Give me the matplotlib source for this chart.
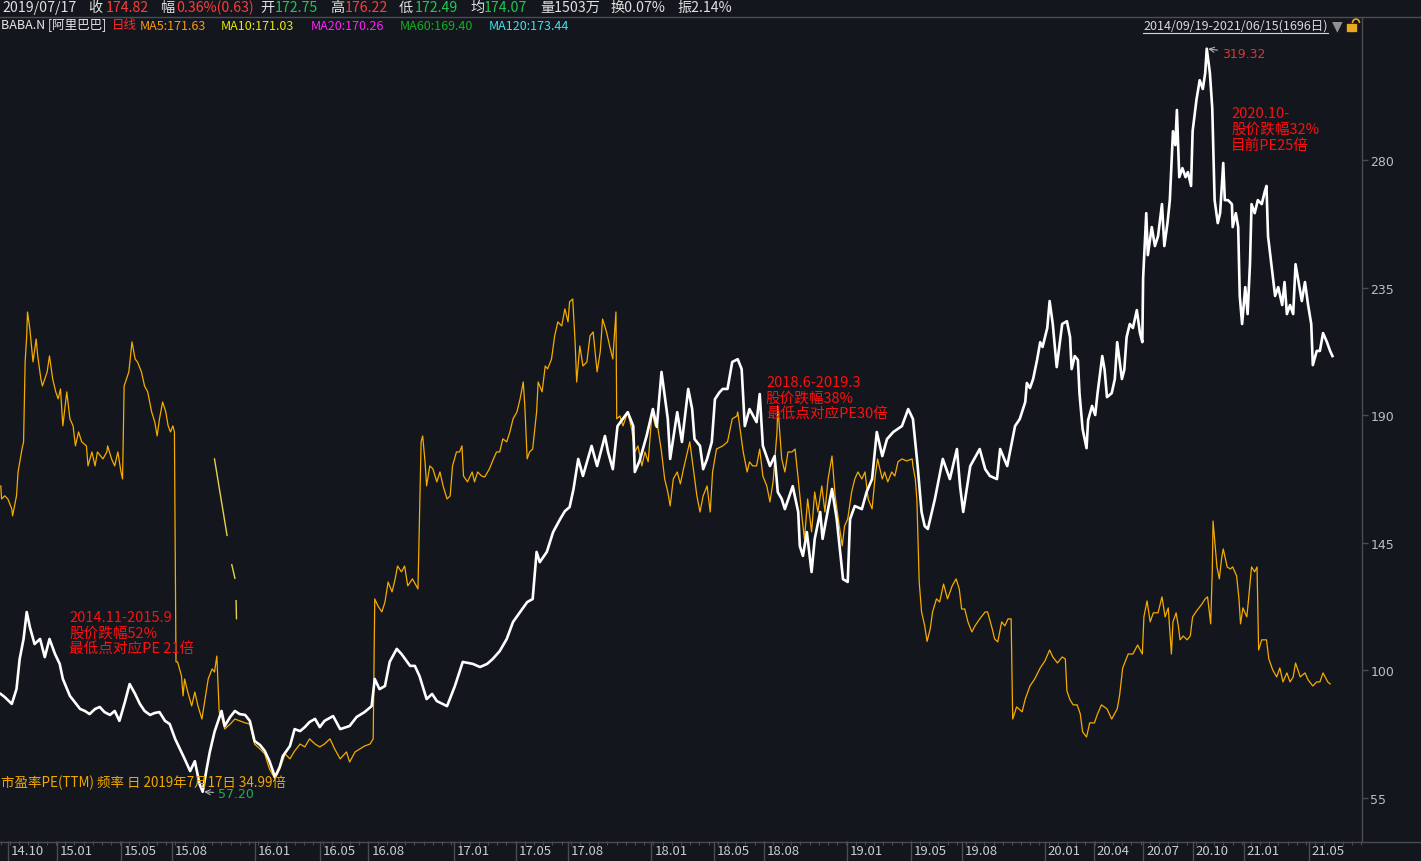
import matplotlib
matplotlib.use('Agg')
import numpy as np
import matplotlib.pyplot as plt
from matplotlib.lines import Line2D
from matplotlib.patches import Rectangle, Arc
from matplotlib.ticker import FixedLocator, MultipleLocator, NullFormatter

plt.rcParams['font.family'] = ['Noto Sans CJK SC', 'DejaVu Sans']

# ---- data: trading-day index since 2014/09/19 ----
price_day = [0, 5, 14, 20, 24, 29, 33, 37, 43, 50,
             56, 62, 69, 75, 79, 88, 94, 101, 107, 113,
             120, 126, 132, 139, 145, 151, 158, 164, 171, 177,
             183, 190, 196, 202, 209, 215, 222, 228, 234, 241,
             247, 253, 257, 262, 266, 272, 281, 285, 292, 298,
             304, 311, 317, 323, 330, 336, 342, 349, 355, 359,
             368, 374, 381, 387, 393, 400, 406, 412, 423, 432,
             444, 453, 463, 472, 476, 482, 489, 495, 504, 510,
             521, 527, 533, 542, 549, 555, 568, 578, 588, 601,
             610, 619, 626, 635, 644, 652, 661, 670, 677, 682,
             686, 695, 703, 712, 718, 724, 729, 735, 741, 752,
             759, 769, 773, 779, 785, 798, 805, 807, 813, 822,
             830, 835, 841, 849, 852, 861, 867, 875, 880, 883,
             890, 894, 899, 905, 909, 915, 919, 925, 931, 938,
             943, 947, 953, 962, 966, 970, 979, 985, 989, 994,
             998, 1008, 1015, 1017, 1021, 1026, 1032, 1036, 1043, 1046,
             1053, 1058, 1064, 1072, 1078, 1081, 1087, 1096, 1102, 1109,
             1115, 1122, 1128, 1136, 1147, 1155, 1161, 1167, 1172, 1176,
             1180, 1189, 1199, 1208, 1217, 1221, 1225, 1234, 1246, 1253,
             1259, 1268, 1272, 1281, 1291, 1297, 1304, 1306, 1310, 1314,
             1319, 1323, 1326, 1332, 1335, 1339, 1344, 1351, 1357, 1361,
             1363, 1367, 1371, 1373, 1377, 1382, 1384, 1389, 1393, 1396,
             1402, 1405, 1408, 1414, 1418, 1421, 1427, 1430, 1433, 1437,
             1441, 1446, 1450, 1453, 1454, 1458, 1460, 1465, 1469, 1473,
             1478, 1481, 1485, 1488, 1492, 1495, 1497, 1500, 1504, 1508,
             1511, 1515, 1517, 1522, 1526, 1530, 1533, 1535, 1539, 1542,
             1543, 1545, 1549, 1552, 1556, 1558, 1562, 1567, 1568, 1572,
             1575, 1577, 1580, 1584, 1587, 1590, 1592, 1596, 1600, 1605,
             1609, 1611, 1613, 1618, 1622, 1626, 1631, 1634, 1637, 1641,
             1645, 1648, 1651, 1656, 1660, 1664, 1668, 1670, 1675, 1679,
             1683, 1688, 1692, 1695]
price = [91.7, 90.6, 88.2, 93.4, 104.0, 111.1, 120.6, 115.3, 109.3, 111.1,
         104.7, 111.1, 105.8, 102.3, 97.0, 91.0, 88.9, 86.4, 85.7, 84.6,
         86.4, 87.1, 85.3, 84.3, 85.7, 82.2, 88.9, 95.2, 91.7, 88.2,
         85.7, 84.3, 85.0, 85.3, 82.2, 81.1, 75.8, 72.3, 68.8, 64.5,
         68.0, 59.9, 57.2, 65.2, 71.2, 78.3, 85.7, 80.4, 83.6, 85.7,
         84.6, 84.3, 82.2, 75.1, 73.7, 71.6, 68.0, 62.4, 65.9, 69.8,
         73.3, 79.3, 78.6, 80.0, 81.8, 82.9, 80.0, 82.2, 83.9, 79.3,
         80.4, 83.6, 85.3, 87.4, 97.0, 93.4, 94.5, 103.0, 107.6, 105.8,
         101.6, 101.6, 98.0, 89.9, 91.7, 89.2, 87.4, 94.5, 103.0, 102.3,
         101.2, 102.3, 104.0, 106.8, 111.1, 117.1, 120.6, 124.1, 125.2, 141.8,
         138.2, 141.8, 148.8, 153.4, 156.2, 157.6, 164.0, 174.6, 168.6, 179.2,
         172.1, 182.7, 177.0, 171.0, 186.2, 191.1, 186.2, 170.0, 173.9, 182.7,
         192.2, 185.9, 205.3, 188.7, 174.6, 191.1, 180.6, 199.3, 192.2, 181.6,
         179.2, 171.0, 174.6, 180.6, 195.7, 198.2, 199.3, 199.3, 208.8, 209.8,
         206.3, 186.2, 192.2, 187.6, 197.5, 179.2, 172.1, 175.6, 162.9, 160.5,
         156.9, 165.0, 155.9, 143.9, 140.4, 148.8, 134.7, 146.4, 155.9, 146.4,
         156.9, 164.0, 153.4, 132.2, 131.2, 153.4, 158.0, 156.9, 162.9, 167.5,
         184.1, 175.6, 181.6, 184.1, 186.2, 192.2, 188.7, 172.1, 155.9, 150.9,
         149.9, 160.5, 174.6, 167.5, 178.1, 165.0, 155.9, 172.1, 178.1, 171.0,
         168.6, 167.5, 178.1, 172.1, 186.2, 188.7, 194.7, 201.4, 199.6, 202.8,
         209.5, 215.8, 214.1, 220.8, 230.3, 222.2, 207.0, 222.2, 223.2, 217.6,
         206.3, 210.9, 209.5, 197.8, 185.1, 178.4, 188.3, 193.3, 190.1, 197.8,
         210.9, 206.0, 196.4, 197.8, 202.8, 215.8, 202.8, 206.0, 217.6, 222.2,
         220.8, 227.1, 219.0, 215.8, 238.4, 261.3, 246.5, 256.4, 249.7, 253.2,
         264.5, 249.7, 257.8, 265.9, 290.2, 285.3, 297.7, 274.0, 277.2, 274.0,
         275.8, 270.9, 290.2, 301.5, 308.2, 305.1, 310.7, 319.32, 310.7, 298.4,
         287.1, 265.9, 257.8, 261.3, 279.0, 265.9, 265.9, 264.5, 256.4, 261.3,
         256.4, 232.1, 222.2, 235.2, 225.7, 243.3, 264.5, 261.3, 265.9, 264.5,
         269.1, 270.9, 253.2, 241.6, 232.1, 235.2, 228.9, 237.0, 225.7, 228.9,
         225.7, 243.3, 238.4, 230.3, 237.0, 228.9, 222.2, 207.7, 212.7, 212.7,
         219.0, 215.8, 212.7, 210.9]

pe_day = [0, 1, 5, 9, 14, 15, 20, 22, 27, 29,
          31, 33, 34, 37, 39, 41, 45, 47, 51, 53,
          59, 62, 66, 70, 73, 76, 79, 84, 88, 92,
          95, 99, 103, 109, 111, 116, 120, 123, 130, 135,
          136, 141, 145, 149, 153, 155, 157, 160, 163, 167,
          171, 174, 179, 183, 187, 192, 196, 199, 202, 206,
          210, 213, 216, 219, 221, 223, 225, 230, 232, 234,
          238, 243, 247, 251, 256, 260, 264, 269, 272, 275,
          278, 281, 285, 292, 298, 304, 311, 317, 323, 330,
          336, 342, 349, 355, 362, 368, 374, 381, 387, 393,
          400, 406, 412, 419, 425, 432, 440, 444, 451, 457,
          463, 470, 474, 476, 480, 485, 489, 493, 498, 502,
          505, 510, 514, 518, 524, 531, 535, 537, 540, 542,
          546, 550, 555, 559, 563, 568, 572, 575, 580, 584,
          587, 589, 594, 600, 603, 607, 612, 616, 622, 626,
          631, 635, 639, 644, 648, 652, 657, 661, 665, 667,
          670, 673, 677, 682, 684, 689, 693, 696, 701, 705,
          709, 714, 718, 722, 724, 728, 731, 733, 737, 741,
          746, 750, 754, 759, 763, 766, 771, 775, 779, 783,
          784, 788, 792, 798, 803, 807, 811, 816, 820, 824,
          829, 833, 836, 841, 845, 849, 852, 856, 861, 865,
          869, 874, 877, 881, 886, 890, 894, 899, 903, 906,
          911, 919, 925, 931, 937, 938, 941, 945, 950, 953,
          957, 962, 966, 970, 975, 979, 983, 988, 989, 994,
          998, 1002, 1007, 1011, 1015, 1020, 1023, 1027, 1032, 1036,
          1040, 1045, 1049, 1053, 1058, 1062, 1066, 1071, 1074, 1078,
          1083, 1087, 1091, 1096, 1100, 1104, 1109, 1113, 1116, 1122,
          1125, 1129, 1134, 1138, 1142, 1147, 1153, 1160, 1161, 1164,
          1166, 1169, 1172, 1176, 1179, 1183, 1186, 1191, 1195, 1200,
          1205, 1211, 1216, 1220, 1223, 1227, 1231, 1236, 1240, 1246,
          1253, 1256, 1262, 1265, 1269, 1274, 1278, 1282, 1286, 1288,
          1293, 1300, 1304, 1310, 1316, 1323, 1329, 1335, 1339, 1345,
          1351, 1355, 1357, 1361, 1365, 1370, 1374, 1377, 1382, 1386,
          1392, 1396, 1401, 1408, 1414, 1421, 1424, 1428, 1435, 1441,
          1447, 1453, 1455, 1459, 1463, 1467, 1473, 1478, 1482, 1486,
          1490, 1492, 1496, 1499, 1501, 1505, 1510, 1514, 1517, 1522,
          1529, 1533, 1536, 1540, 1542, 1543, 1548, 1551, 1554, 1556,
          1561, 1565, 1568, 1573, 1576, 1578, 1581, 1586, 1588, 1592,
          1596, 1599, 1601, 1605, 1611, 1614, 1619, 1624, 1628, 1632,
          1637, 1641, 1645, 1648, 1654, 1660, 1664, 1670, 1675, 1679,
          1683, 1689, 1692]
pe = [33.80, 33.22, 33.36, 33.22, 32.78, 32.47, 33.36, 34.42, 35.44, 35.76,
      39.31, 40.47, 41.53, 40.78, 40.02, 39.31, 40.33, 39.58, 38.56, 38.24,
      38.87, 39.58, 38.56, 37.98, 37.67, 38.11, 36.47, 37.98, 36.78, 36.47,
      35.58, 36.20, 35.76, 35.58, 34.69, 35.31, 34.69, 35.31, 35.00, 35.31,
      35.58, 35.00, 34.69, 35.31, 34.42, 34.11, 38.24, 38.56, 38.87, 40.20,
      39.44, 39.31, 38.87, 38.24, 37.98, 37.09, 36.64, 36.02, 36.78, 37.53,
      37.09, 36.47, 36.20, 36.47, 36.20, 25.98, 25.98, 25.36, 24.47, 25.22,
      24.64, 24.02, 24.64, 24.02, 23.44, 24.33, 25.22, 25.67, 25.53, 26.24,
      23.76, 23.53, 23.00, 23.22, 23.44, 23.36, 23.27, 23.22, 22.33, 22.11,
      21.89, 21.22, 20.78, 21.22, 21.89, 21.67, 22.02, 22.33, 22.20, 22.56,
      22.33, 22.20, 22.33, 22.56, 22.11, 21.67, 21.98, 21.53, 21.98, 22.11,
      22.24, 22.33, 22.56, 28.78, 28.47, 28.20, 28.64, 29.53, 29.09, 29.67,
      30.24, 29.98, 30.24, 29.36, 29.67, 29.22, 35.76, 36.02, 34.87, 33.80,
      34.69, 34.56, 33.98, 34.42, 33.80, 33.22, 33.36, 34.69, 35.31, 35.31,
      35.58, 34.24, 33.98, 34.42, 33.98, 34.42, 34.24, 34.20, 34.56, 34.91,
      35.31, 35.31, 35.89, 35.76, 36.20, 36.78, 37.09, 37.67, 38.42, 37.36,
      35.00, 35.31, 35.44, 37.09, 38.42, 37.98, 39.13, 39.00, 39.44, 40.47,
      41.09, 40.91, 41.67, 41.09, 41.98, 42.11, 40.20, 38.42, 40.02, 39.13,
      39.31, 40.47, 40.64, 38.87, 39.76, 41.22, 40.64, 40.02, 39.44, 41.53,
      36.78, 36.91, 36.47, 37.09, 36.33, 35.31, 35.58, 34.69, 35.31, 34.87,
      37.09, 36.47, 36.47, 35.31, 34.11, 33.53, 32.91, 34.11, 34.42, 33.89,
      34.56, 35.31, 35.76, 34.69, 33.36, 32.64, 33.36, 33.80, 32.64, 34.42,
      35.44, 35.58, 35.76, 36.78, 36.91, 37.09, 36.33, 35.31, 34.42, 34.87,
      34.69, 34.69, 35.44, 34.24, 33.80, 33.09, 33.98, 36.20, 37.36, 35.00,
      34.42, 35.31, 35.31, 35.44, 34.11, 32.33, 31.44, 33.22, 31.76, 33.53,
      32.64, 33.80, 32.64, 34.11, 35.13, 33.36, 32.33, 31.13, 32.02, 32.33,
      33.53, 34.11, 34.42, 34.11, 34.42, 33.22, 32.78, 34.24, 35.00, 34.11,
      34.42, 33.98, 34.42, 34.24, 34.87, 35.00, 34.91, 35.00, 34.69, 34.11,
      33.22, 29.53, 28.20, 27.58, 26.89, 27.44, 28.20, 28.78, 28.64, 29.44,
      28.78, 29.36, 29.67, 29.22, 28.33, 28.33, 27.76, 27.31, 27.58, 27.89,
      28.20, 28.20, 27.44, 27.00, 26.87, 27.76, 27.58, 27.89, 27.89, 23.44,
      23.98, 23.76, 24.33, 24.91, 25.22, 25.71, 26.02, 26.51, 26.20, 25.93,
      26.20, 26.11, 24.69, 24.29, 24.07, 24.07, 23.67, 22.87, 22.64, 23.27,
      23.27, 23.67, 24.07, 23.89, 23.44, 23.89, 24.47, 25.71, 26.33, 26.33,
      26.73, 26.33, 27.98, 28.69, 27.76, 28.16, 28.16, 28.87, 27.98, 28.38,
      26.33, 27.76, 28.16, 27.53, 26.96, 27.13, 26.96, 27.13, 27.98, 28.24,
      28.56, 28.78, 28.87, 27.67, 29.98, 32.24, 30.20, 29.67, 30.60, 31.00,
      30.20, 30.11, 30.20, 29.80, 28.78, 27.67, 28.38, 27.98, 28.69, 30.20,
      29.98, 30.20, 26.51, 26.96, 26.96, 26.11, 25.62, 25.31, 25.71, 25.09,
      25.49, 25.09, 25.31, 25.93, 25.31, 25.49, 25.18, 24.91, 25.09, 25.09,
      25.49, 25.09, 25.00]

# broken PE stretch in late 2015
gap_day = [272, 288, 289, 294, 298, 299, 299.5, 300]
gap_pe = [35.0, 31.6, np.nan, 30.3, 29.7, np.nan, 28.7, 27.9]

tick_day = [9, 71, 153, 218, 323, 406, 468, 577, 656, 722, 828,
            908, 971, 1077, 1158, 1223, 1329, 1391, 1454, 1517, 1582, 1665]
tick_lab = ['14.10', '15.01', '15.05', '15.08', '16.01', '16.05', '16.08',
            '17.01', '17.05', '17.08', '18.01', '18.05', '18.08', '19.01',
            '19.05', '19.08', '20.01', '20.04', '20.07', '20.10', '21.01', '21.05']
price_ticks = [55, 100, 145, 190, 235, 280]

# ---- figure ----
W, H = 1421, 862
BG = '#13161c'
GRID = '#4a4c52'
fig = plt.figure(figsize=(W / 100, H / 100), dpi=100, facecolor=BG)

def fx(x): return x / W
def fy(y): return 1 - y / H

ax = fig.add_axes([0, fy(842), fx(1362), (842 - 18) / H])
ax.set_facecolor(BG)
axp = ax.twinx()

# PE line underneath the price line
ax.plot(pe_day, pe, color='#f5ab00', lw=0.9)
ax.plot(gap_day, gap_pe, color='#e6d24a', lw=1.0)
ax.set_ylim(18.02, 54.64)
ax.set_yticks([])

axp.plot(price_day, price, color='white', lw=1.9)
axp.set_ylim(39.83, 330.5)
ax.set_xlim(-1, 1732.6)

for s in ['left', 'top', 'right', 'bottom']:
    ax.spines[s].set_visible(False)
    axp.spines[s].set_visible(False)

axp.yaxis.set_major_locator(FixedLocator(price_ticks))
axp.tick_params(axis='y', colors=GRID, length=4, width=1, pad=2,
                labelcolor='#b8c0c8', labelsize=9)
for lab in axp.get_yticklabels():
    lab.set_family('DejaVu Sans')

ax.xaxis.set_major_locator(FixedLocator(tick_day))
ax.xaxis.set_major_formatter(NullFormatter())
ax.xaxis.set_minor_locator(MultipleLocator(11.7))
ax.tick_params(axis='x', which='major', length=14.4, width=1, color=GRID, direction='out')
ax.tick_params(axis='x', which='minor', length=3, width=0.8, color=GRID, direction='out')
for d, lab in zip(tick_day, tick_lab):
    ax.annotate(lab, xy=(d, 0), xycoords=('data', 'axes fraction'),
                xytext=(3, -10), textcoords='offset pixels',
                ha='left', va='center', color='#c8ccd4', fontsize=9.5,
                annotation_clip=False)

# frame lines
for coords in [([0, 1], [fy(18), fy(18)]), ([0, 1], [fy(842.5), fy(842.5)]),
               ([fx(1362), fx(1362)], [fy(18), fy(842.5)])]:
    fig.add_artist(Line2D(coords[0], coords[1], color=GRID, lw=1))

# header row 1
row1 = [(2, '2019/07/17', '#e0e0e0'), (88, '收', '#e0e0e0'), (106, '174.82', '#ff3b3b'),
        (160, '幅', '#e0e0e0'), (176, '0.36%(0.63)', '#ff3b3b'),
        (260, '开', '#e0e0e0'), (275, '172.75', '#1fc94f'),
        (330, '高', '#e0e0e0'), (345, '176.22', '#ff3b3b'),
        (399, '低', '#e0e0e0'), (415, '172.49', '#1fc94f'),
        (470, '均', '#e0e0e0'), (484, '174.07', '#1fc94f'),
        (540, '量1503万', '#e0e0e0'), (611, '换0.07%', '#e0e0e0'), (677, '振2.14%', '#e0e0e0')]
for x, t, c in row1:
    fig.text(fx(x), fy(8), t, color=c, fontsize=10.2, ha='left', va='center')

row2 = [(1, 'BABA.N [阿里巴巴]', '#e8e8e8'), (112, '日线', '#ff2a2a'),
        (140, 'MA5:171.63', '#ff9a00'), (221, 'MA10:171.03', '#e8e800'),
        (311, 'MA20:170.26', '#ff20ff'), (400, 'MA60:169.40', '#10b020'),
        (489, 'MA120:173.44', '#40e0f0')]
for x, t, c in row2:
    fig.text(fx(x), fy(26), t, color=c, fontsize=9, ha='left', va='center')

fig.text(fx(1328), fy(26), '2014/09/19-2021/06/15(1696日)', color='#d8d8d8',
         fontsize=9, ha='right', va='center')
fig.add_artist(Line2D([fx(1143), fx(1328)], [fy(34), fy(34)], color='#d8d8d8', lw=0.8))
fig.text(fx(1337), fy(26), '▼', color='#909090', fontsize=10, ha='center', va='center',
         family='DejaVu Sans')
fig.add_artist(Rectangle((fx(1347), fy(32)), fx(9), 7 / H, color='#e8a820'))
fig.add_artist(Arc((fx(1356), fy(24)), fx(7), 8 / H, theta1=0, theta2=180,
                   color='#e8a820', lw=1.2))

# price extremes
axp.annotate('319.32', xy=(1535, 319.32), xytext=(15, -5), textcoords='offset pixels',
             color='#d83838', fontsize=9, ha='left', va='center', family='DejaVu Sans',
             arrowprops=dict(arrowstyle='->', color='#b0b0b0', lw=0.8, shrinkA=1, shrinkB=1))
axp.annotate('57.20', xy=(257, 57.2), xytext=(15, -2), textcoords='offset pixels',
             color='#20b050', fontsize=9, ha='left', va='center', family='DejaVu Sans',
             arrowprops=dict(arrowstyle='->', color='#b0b0b0', lw=0.8, shrinkA=1, shrinkB=1))

notes = [(69, 611, '2014.11-2015.9\n股价跌幅52%\n最低点对应PE 21倍'),
         (766, 376, '2018.6-2019.3\n股价跌幅38%\n最低点对应PE30倍'),
         (1231, 107, '2020.10-\n股价跌幅32%\n目前PE25倍')]
for x, y, t in notes:
    fig.text(fx(x), fy(y), t, color='#ff1010', fontsize=10.5, ha='left', va='top',
             linespacing=1.17)

fig.text(fx(1), fy(783), '市盈率PE(TTM) 频率 日 2019年7月17日 34.99倍', color='#f0a800',
         fontsize=9.7, ha='left', va='center')

fig.savefig('out.png', dpi=100, facecolor=BG)
